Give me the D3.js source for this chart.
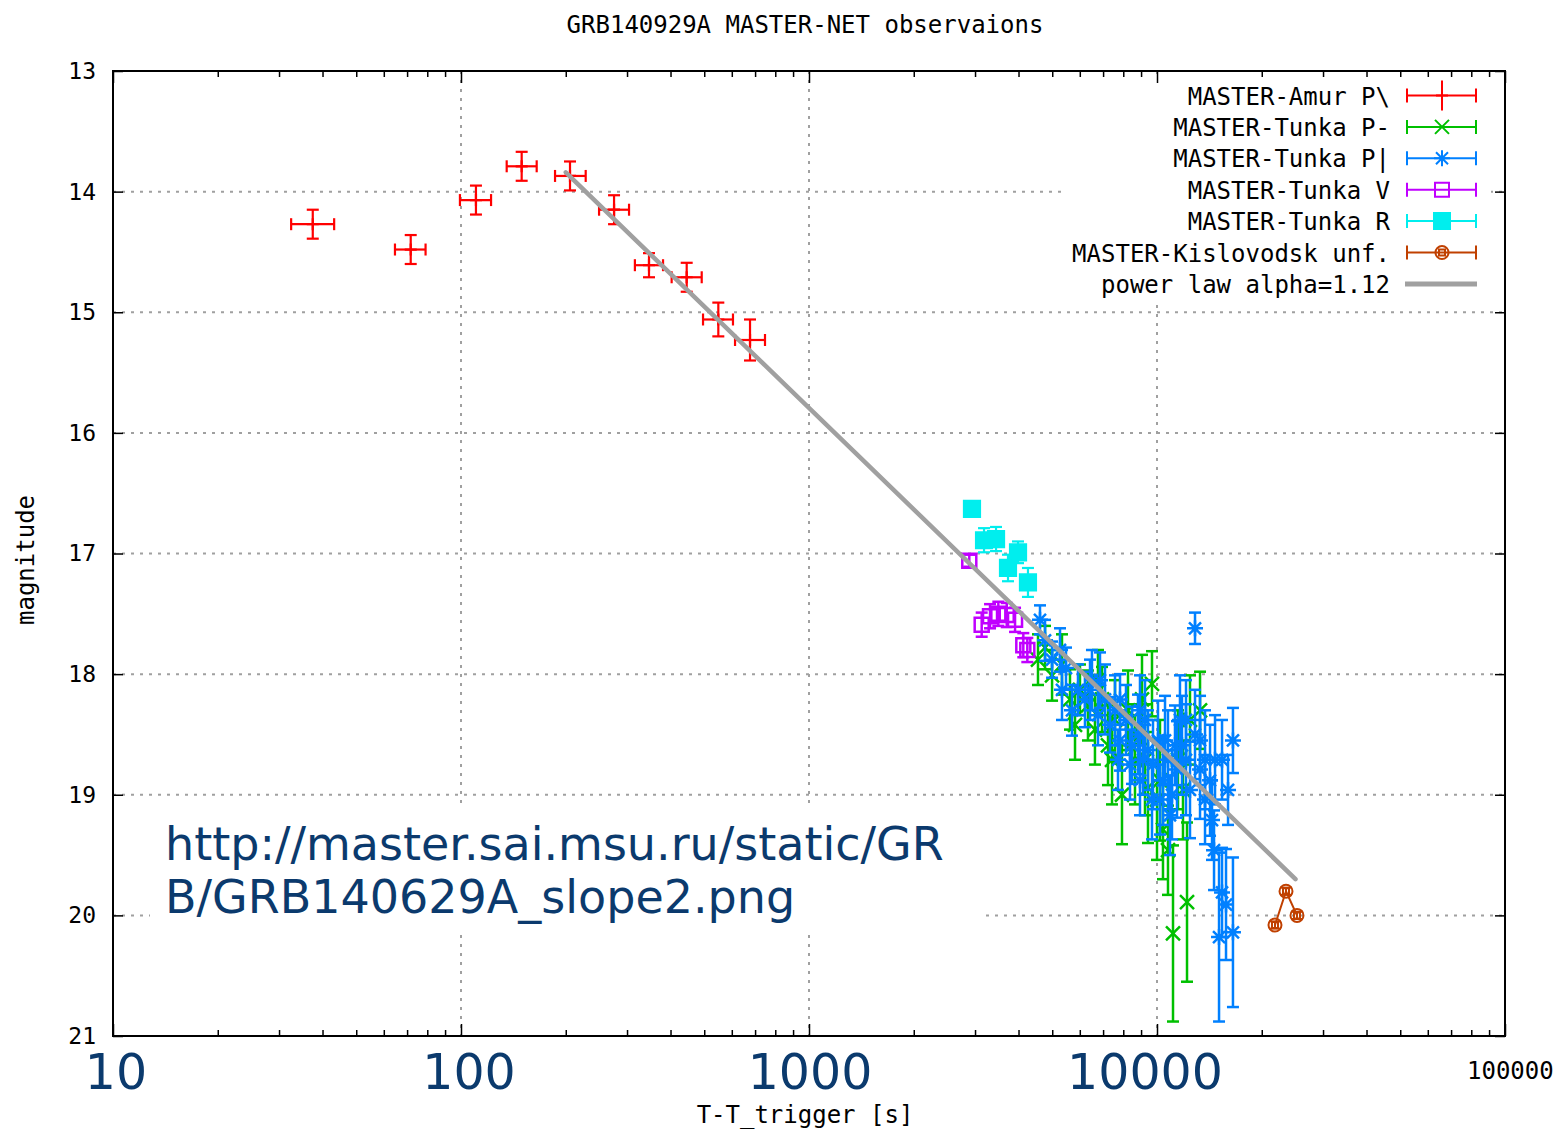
<!DOCTYPE html>
<html><head><meta charset="utf-8">
<script src="https://cdn.jsdelivr.net/npm/d3@7"></script>
<style>body{margin:0;background:#fff;} svg{display:block;}</style>
</head><body><svg id="c" width="1555" height="1132"></svg>
<script>
// ---------------- DATA ----------------
const titleText = "GRB140929A MASTER-NET observaions";
const xLabelText = "T-T_trigger [s]";
const yLabelText = "magnitude";
const xMajorTicks = [10, 100, 1000, 10000, 100000];
const yTicks = [13, 14, 15, 16, 17, 18, 19, 20, 21];
const bigXLabels = ["10", "100", "1000", "10000"];
const bigXValues = [10, 100, 1000, 10000];
const urlLines = ["http://master.sai.msu.ru/static/GR", "B/GRB140629A_slope2.png"];
const legendLabels = ["MASTER-Amur P\\", "MASTER-Tunka P-", "MASTER-Tunka P|", "MASTER-Tunka V",
  "MASTER-Tunka R", "MASTER-Kislovodsk unf.", "power law alpha=1.12"];

// [t, tLow, tHigh, mag, magErr]
const amurP = [
  [37.5, 32.5, 43.2, 14.27, 0.12],
  [71.7, 64.6, 79.1, 14.48, 0.12],
  [110.4, 99.3, 122, 14.07, 0.12],
  [149.4, 135.3, 165, 13.79, 0.12],
  [205.7, 186.3, 228.2, 13.87, 0.12],
  [275.3, 249.3, 304, 14.15, 0.12],
  [346.9, 316, 380.7, 14.61, 0.10],
  [445.2, 403, 491.7, 14.71, 0.12],
  [548.8, 496, 604.7, 15.06, 0.14],
  [676.9, 613, 747.4, 15.23, 0.17]
];
// [t, mag, magErr]
const tunkaPminus = [
  [4550, 17.88, 0.21], [4767, 17.78, 0.18], [4994, 18.01, 0.21], [5333, 17.92, 0.25],
  [5623, 18.21, 0.25], [5813, 18.42, 0.29], [6007, 18.13, 0.21], [6333, 18.26, 0.29],
  [6633, 18.46, 0.29], [6767, 18.05, 0.25], [6950, 18.21, 0.27], [7231, 18.59, 0.33],
  [7426, 18.71, 0.37], [7574, 18.38, 0.33], [7932, 19.00, 0.41], [8254, 18.30, 0.33],
  [8475, 18.50, 0.25], [8645, 18.71, 0.37], [9055, 18.21, 0.37], [9236, 18.71, 0.46],
  [9421, 18.94, 0.46], [9674, 18.08, 0.27], [10000, 19.04, 0.50], [10200, 18.88, 0.50],
  [10404, 19.29, 0.41], [10754, 19.46, 0.37], [11117, 20.15, 0.73], [11490, 18.71, 0.41],
  [11876, 18.96, 0.41], [12197, 19.89, 0.66], [12440, 18.38, 0.37], [13294, 18.30, 0.32]
];
const tunkaPbar = [
  [4611, 17.55, 0.12], [4767, 17.72, 0.17], [4994, 17.88, 0.15], [5264, 17.80, 0.18],
  [5333, 18.13, 0.25], [5476, 17.95, 0.17], [5698, 18.30, 0.21], [5929, 18.13, 0.21],
  [6209, 18.21, 0.23], [6420, 18.13, 0.25], [6503, 18.05, 0.25], [6767, 18.34, 0.25],
  [6858, 18.05, 0.23], [7089, 18.21, 0.29], [7327, 18.42, 0.23], [7574, 18.30, 0.29],
  [7725, 18.71, 0.25], [7829, 18.55, 0.25], [7829, 18.21, 0.21], [8145, 18.38, 0.29],
  [8364, 18.75, 0.29], [8475, 18.59, 0.32], [8819, 18.50, 0.33], [8935, 18.30, 0.29],
  [8935, 18.88, 0.29], [9115, 18.71, 0.29], [9236, 18.38, 0.33], [9421, 18.63, 0.33],
  [9674, 19.04, 0.33], [9739, 18.75, 0.37], [10066, 18.55, 0.33], [10200, 19.04, 0.29],
  [10404, 18.88, 0.37], [10545, 18.55, 0.37], [10754, 18.71, 0.41], [10898, 19.17, 0.33],
  [11042, 19.00, 0.37], [11264, 18.59, 0.33], [11415, 18.79, 0.40], [11641, 18.38, 0.37],
  [11798, 18.59, 0.41], [12116, 18.71, 0.46], [12116, 18.38, 0.33], [12440, 18.96, 0.40],
  [12860, 17.62, 0.13], [12860, 18.50, 0.37], [13294, 18.79, 0.41], [13294, 18.55, 0.37],
  [13740, 19.04, 0.37], [13740, 18.71, 0.41], [14204, 18.88, 0.46], [14390, 19.21, 0.33],
  [14584, 19.46, 0.33], [14680, 18.71, 0.37], [15075, 20.18, 0.70], [15377, 19.81, 0.37],
  [15377, 18.71, 0.33], [15788, 19.91, 0.46], [16000, 18.96, 0.29], [16530, 20.14, 0.62],
  [16530, 18.55, 0.27]
];
const tunkaV = [
  [2888, 17.06, 0.05], [3135, 17.59, 0.10], [3313, 17.52, 0.10], [3500, 17.50, 0.10],
  [3700, 17.51, 0.10], [3909, 17.55, 0.10], [4129, 17.76, 0.10], [4240, 17.80, 0.10]
];
const tunkaR = [
  [2940, 16.63, 0.06], [3184, 16.89, 0.10], [3447, 16.88, 0.10],
  [3731, 17.12, 0.11], [3987, 16.99, 0.09], [4258, 17.24, 0.12]
];
const kislovodsk = [[21830, 20.08, 0.03], [23480, 19.80, 0.03], [25250, 20.00, 0.03]];
const powerLaw = [[200, 13.84], [25000, 19.70]];

// ---------------- LAYOUT ----------------
const L = 113, R = 1505, T = 71, B = 1036;
const svg = d3.select("#c");
const x = d3.scaleLog().domain([10, 100000]).range([L, R]);
const y = d3.scaleLinear().domain([13, 21]).range([T, B]);
const MONO = "'DejaVu Sans Mono', monospace";
const COL = {red: "#ff0000", green: "#00c000", blue: "#0080ff", purple: "#c000ff",
  cyan: "#00eeee", orange: "#c04000", grey: "#a0a0a0", navy: "#0b3a6d"};

// grid
const grid = svg.append("g").attr("stroke", "#a0a0a0").attr("stroke-width", 2)
  .attr("stroke-dasharray", "3,6");
grid.selectAll("line.gv").data(xMajorTicks.slice(1, -1)).join("line").attr("class", "gv")
  .attr("x1", d => x(d)).attr("x2", d => x(d)).attr("y1", T).attr("y2", B);
grid.selectAll("line.gh").data(yTicks.slice(1, -1)).join("line").attr("class", "gh")
  .attr("y1", d => y(d)).attr("y2", d => y(d)).attr("x1", L).attr("x2", R);

// opaque boxes (key and text box)
svg.append("rect").attr("x", 1066).attr("y", 80).attr("width", 425).attr("height", 219).attr("fill", "#fff");
svg.append("rect").attr("x", 150).attr("y", 805).attr("width", 835).attr("height", 125).attr("fill", "#fff");

// axes ticks
const xMinor = [];
[10, 100, 1000, 10000].forEach(dec => { for (let k = 2; k <= 9; k++) xMinor.push(k * dec); });
function styleAxis(g) { g.select(".domain").remove(); g.selectAll("line").attr("stroke", "#000").attr("stroke-width", 1.5); }
svg.append("g").attr("transform", `translate(0,${B})`)
  .call(d3.axisBottom(x).tickValues(xMajorTicks).tickSize(-12).tickFormat("")).call(styleAxis);
svg.append("g").attr("transform", `translate(0,${B})`)
  .call(d3.axisBottom(x).tickValues(xMinor).tickSize(-6).tickFormat("")).call(styleAxis);
svg.append("g").attr("transform", `translate(0,${T})`)
  .call(d3.axisTop(x).tickValues(xMajorTicks).tickSize(-12).tickFormat("")).call(styleAxis);
svg.append("g").attr("transform", `translate(0,${T})`)
  .call(d3.axisTop(x).tickValues(xMinor).tickSize(-6).tickFormat("")).call(styleAxis);
const yAx = svg.append("g").attr("transform", `translate(${L},0)`)
  .call(d3.axisLeft(y).tickValues(yTicks).tickSize(-10).tickPadding(17).tickFormat(d3.format("d")))
  .call(styleAxis);
yAx.selectAll("text").attr("font-family", MONO).attr("font-size", 23).attr("fill", "#000");
svg.append("g").attr("transform", `translate(${R},0)`)
  .call(d3.axisRight(y).tickValues(yTicks).tickSize(-10).tickFormat("")).call(styleAxis);

// symbols
const SYM = {
  plus: "M-6,0H6M0,-6V6",
  cross: "M-7,-7L7,7M-7,7L7,-7",
  star: "M-8,0H8M0,-8V8M-6,-6L6,6M-6,6L6,-6",
  osq: "M-7,-7H7V7H-7Z",
  fsq: "M-8,-8H8V8H-8Z",
  circ: "M-6.5,0A6.5,6.5 0 1,0 6.5,0A6.5,6.5 0 1,0 -6.5,0M-3,-3H3V3H-3Z"
};
const CAP = 6;
function drawSeries(rows, color, sym, fill, hasX, sw) {
  const g = svg.append("g").attr("stroke", color).attr("stroke-width", sw).attr("fill", "none");
  const pts = g.selectAll("g").data(rows).join("g");
  pts.each(function (r) {
    const s = d3.select(this);
    const t = r[0], mag = hasX ? r[3] : r[1], err = hasX ? r[4] : r[2];
    const cx = x(t), cy = y(mag), y1 = y(mag - err), y2 = y(mag + err);
    s.append("line").attr("x1", cx).attr("x2", cx).attr("y1", y1).attr("y2", y2);
    s.append("line").attr("x1", cx - CAP).attr("x2", cx + CAP).attr("y1", y1).attr("y2", y1);
    s.append("line").attr("x1", cx - CAP).attr("x2", cx + CAP).attr("y1", y2).attr("y2", y2);
    if (hasX) {
      const x1 = x(r[1]), x2 = x(r[2]);
      s.append("line").attr("x1", x1).attr("x2", x2).attr("y1", cy).attr("y2", cy);
      s.append("line").attr("x1", x1).attr("x2", x1).attr("y1", cy - CAP).attr("y2", cy + CAP);
      s.append("line").attr("x1", x2).attr("x2", x2).attr("y1", cy - CAP).attr("y2", cy + CAP);
    }
    s.append("path").attr("d", SYM[sym]).attr("transform", `translate(${cx},${cy})`)
      .attr("fill", fill ? color : "none");
  });
  return g;
}
drawSeries(amurP, COL.red, "plus", false, true, 2.2);
drawSeries(tunkaPminus, COL.green, "cross", false, false, 2.5);
drawSeries(tunkaPbar, COL.blue, "star", false, false, 2.5);
drawSeries(tunkaV, COL.purple, "osq", false, false, 2.5);
drawSeries(tunkaR, COL.cyan, "fsq", true, false, 2.2);
svg.append("path").datum(kislovodsk)
  .attr("d", d3.line().x(d => x(d[0])).y(d => y(d[1])))
  .attr("stroke", COL.orange).attr("stroke-width", 2).attr("fill", "none");
drawSeries(kislovodsk, COL.orange, "circ", false, false, 2);

// power law
svg.append("path").datum(powerLaw)
  .attr("d", d3.line().x(d => x(d[0])).y(d => y(d[1])))
  .attr("stroke", COL.grey).attr("stroke-width", 4.5).attr("fill", "none").attr("stroke-linecap", "round");

// legend
const legColors = [COL.red, COL.green, COL.blue, COL.purple, COL.cyan, COL.orange, COL.grey];
const legSyms = ["plus", "cross", "star", "osq", "fsq", "circ", null];
const lg = svg.append("g");
legendLabels.forEach((lab, i) => {
  const ry = 95.5 + i * 31.4;
  lg.append("text").attr("x", 1390).attr("y", ry + 9).attr("text-anchor", "end")
    .attr("font-family", MONO).attr("font-size", 24).attr("fill", "#000").text(lab);
  const c = legColors[i];
  const g = lg.append("g").attr("stroke", c).attr("fill", "none").attr("stroke-width", 2);
  if (legSyms[i] === null) {
    g.append("line").attr("x1", 1405).attr("x2", 1477).attr("y1", ry).attr("y2", ry).attr("stroke-width", 5);
    return;
  }
  g.append("line").attr("x1", 1407).attr("x2", 1476).attr("y1", ry).attr("y2", ry);
  g.append("line").attr("x1", 1407).attr("x2", 1407).attr("y1", ry - 7).attr("y2", ry + 7);
  g.append("line").attr("x1", 1476).attr("x2", 1476).attr("y1", ry - 7).attr("y2", ry + 7);
  if (i === 0) g.append("line").attr("x1", 1442).attr("x2", 1442).attr("y1", ry - 15).attr("y2", ry + 15);
  g.append("path").attr("d", SYM[legSyms[i]]).attr("transform", `translate(1442,${ry})`)
    .attr("fill", legSyms[i] === "fsq" ? c : "none");
});

// border
svg.append("rect").attr("x", L).attr("y", T).attr("width", R - L).attr("height", B - T)
  .attr("fill", "none").attr("stroke", "#000").attr("stroke-width", 2);

// titles
svg.append("text").attr("x", 805).attr("y", 33).attr("text-anchor", "middle")
  .attr("font-family", MONO).attr("font-size", 24).text(titleText);
svg.append("text").attr("x", 805).attr("y", 1123).attr("text-anchor", "middle")
  .attr("font-family", MONO).attr("font-size", 24).text(xLabelText);
svg.append("text").attr("transform", "translate(34,560) rotate(-90)").attr("text-anchor", "middle")
  .attr("font-family", MONO).attr("font-size", 24).text(yLabelText);
svg.append("text").attr("x", 1467).attr("y", 1079)
  .attr("font-family", MONO).attr("font-size", 24).text(d3.format("d")(xMajorTicks[4]));

// overlaid annotation text
const bigDx = [3, 8, 1, -12];
svg.append("g").selectAll("text").data(bigXValues).join("text")
  .attr("x", (d, i) => x(d) + bigDx[i]).attr("y", 1089).attr("text-anchor", "middle")
  .attr("font-family", "'DejaVu Sans', Verdana, sans-serif").attr("font-size", 49)
  .attr("fill", COL.navy).text((d, i) => bigXLabels[i]);
svg.append("g").selectAll("text").data(urlLines).join("text")
  .attr("x", 165).attr("y", (d, i) => 860 + i * 53)
  .attr("font-family", "'DejaVu Sans', Verdana, sans-serif").attr("font-size", 46)
  .attr("fill", COL.navy).text(d => d);
</script></body></html>
